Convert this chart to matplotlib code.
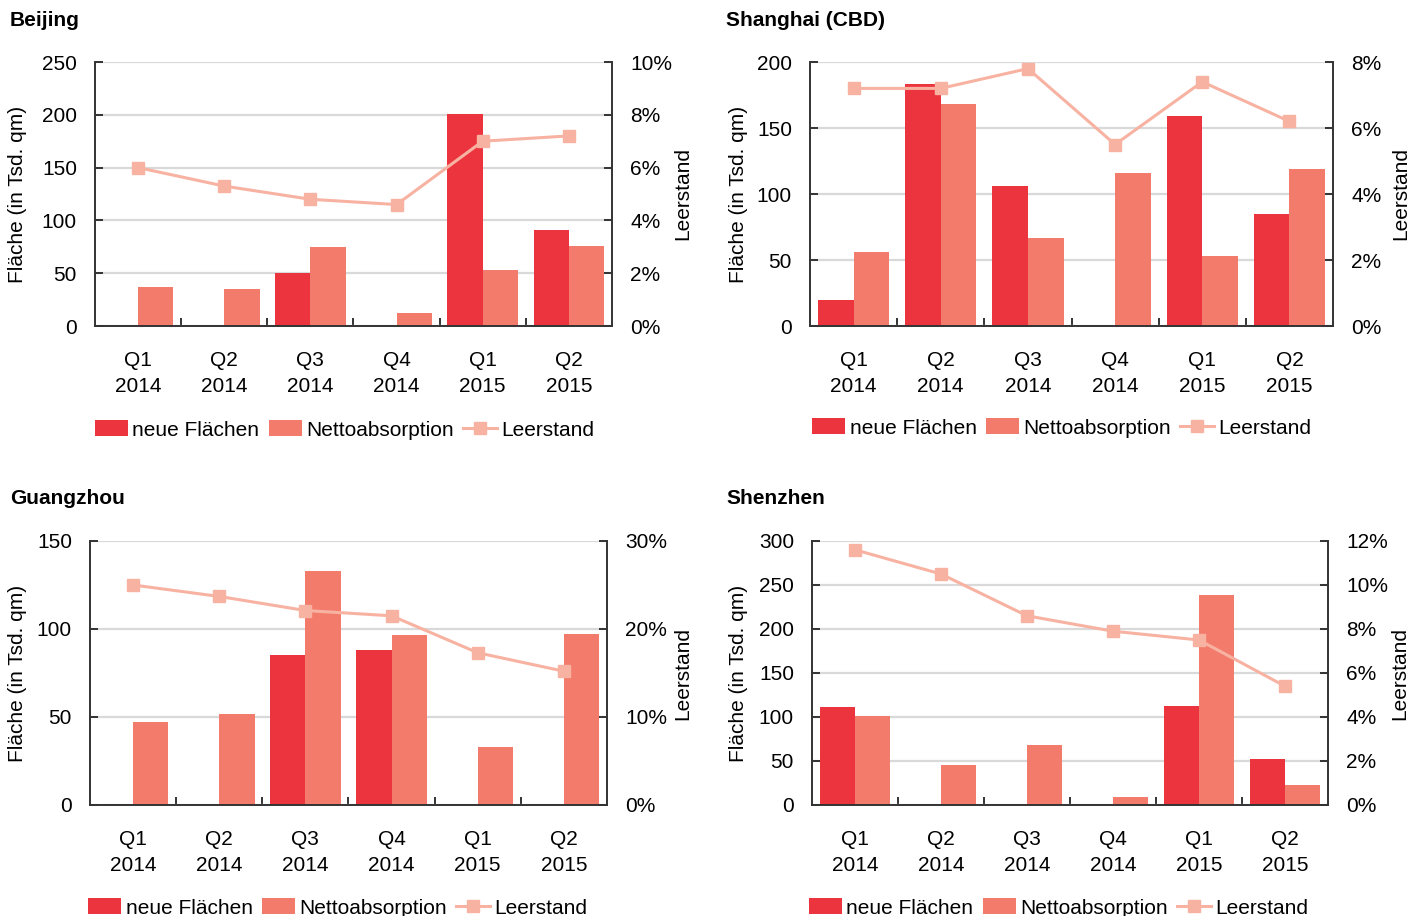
import matplotlib
matplotlib.use("Agg")
import matplotlib.pyplot as plt
from matplotlib.patches import Patch
from matplotlib.lines import Line2D
from matplotlib.ticker import FuncFormatter, MultipleLocator, FixedLocator, NullFormatter
import numpy as np

plt.rcParams['font.family'] = ['Liberation Sans', 'DejaVu Sans']
plt.rcParams['font.size'] = 15

# ---- data -------------------------------------------------------------
quarters = ["Q1\n2014", "Q2\n2014", "Q3\n2014", "Q4\n2014", "Q1\n2015", "Q2\n2015"]

beijing_neue = [0, 0, 50, 0, 201, 91]
beijing_netto = [37, 35, 75, 12, 53, 76]
beijing_leer = [6.0, 5.3, 4.8, 4.6, 7.0, 7.2]

shanghai_neue = [20, 183, 106, 0, 159, 85]
shanghai_netto = [56, 168, 67, 116, 53, 119]
shanghai_leer = [7.2, 7.2, 7.8, 5.5, 7.4, 6.2]

guangzhou_neue = [0, 0, 85, 88, 0, 0]
guangzhou_netto = [47, 51.5, 133, 96.5, 33, 97]
guangzhou_leer = [25.0, 23.7, 22.1, 21.5, 17.3, 15.2]

shenzhen_neue = [111, 0, 0, 0, 112, 52]
shenzhen_netto = [101, 45, 68, 9, 239, 23]
shenzhen_leer = [11.6, 10.5, 8.6, 7.9, 7.5, 5.4]

series_names = ["neue Flächen", "Nettoabsorption", "Leerstand"]
left_label = "Fläche (in Tsd. qm)"
right_label = "Leerstand"

# ---- styling ----------------------------------------------------------
C_NEUE = "#EC343E"
C_NETTO = "#F27B6B"
C_LEER = "#F8B2A2"
GRID = "#D9D9D9"
SPINE = "#333333"

W, H = 1426, 916
fig = plt.figure(figsize=(W / 100, H / 100), dpi=100)


def px_axes(left, right, top, bottom):
    return fig.add_axes([left / W, 1 - bottom / H, (right - left) / W, (bottom - top) / H])


def panel(box, title, title_xy, neue, netto, leer, ymax, ystep, rmax, rstep,
          llabel_x, rlabel_x, legend_xy):
    left, right, top, bottom = box
    ax = px_axes(left, right, top, bottom)
    x = np.arange(len(quarters))
    w = 0.41
    ax.bar(x - w / 2, neue, width=w, color=C_NEUE, zorder=2)
    ax.bar(x + w / 2, netto, width=w, color=C_NETTO, zorder=2)
    ax.set_xlim(-0.5, len(quarters) - 0.5)
    ax.set_ylim(0, ymax)
    ax.yaxis.set_major_locator(MultipleLocator(ystep))
    ax.grid(axis='y', color=GRID, linewidth=1.6, zorder=0)
    ax.set_axisbelow(True)

    # category boundaries carry the tick marks, centres carry the labels
    ax.xaxis.set_major_locator(FixedLocator(np.arange(0.5, len(quarters) - 0.5, 1)))
    ax.xaxis.set_major_formatter(NullFormatter())
    ax.xaxis.set_minor_locator(FixedLocator(x))
    ax.set_xticklabels(quarters, minor=True, linespacing=1.45)
    ax.tick_params(axis='x', which='major', direction='in', length=6, width=1.4, color=SPINE)
    ax.tick_params(axis='x', which='minor', length=0, pad=18, labelsize=15)
    ax.tick_params(axis='y', direction='in', length=6, width=1.4, color=SPINE,
                   pad=13, labelsize=15)

    for s in ('left', 'bottom'):
        ax.spines[s].set_color(SPINE)
        ax.spines[s].set_linewidth(1.4)
    ax.spines['top'].set_visible(False)
    ax.spines['right'].set_visible(False)

    ax2 = ax.twinx()
    ax2.plot(x, leer, color=C_LEER, linewidth=2.2, marker='s', markersize=8,
             markerfacecolor=C_LEER, markeredgecolor=C_LEER, zorder=3)
    ax2.set_ylim(0, rmax)
    ax2.yaxis.set_major_locator(MultipleLocator(rstep))
    ax2.yaxis.set_major_formatter(FuncFormatter(lambda v, p: f"{v:.0f}%"))
    ax2.tick_params(axis='y', direction='in', length=6, width=1.4, color=SPINE,
                    pad=13, labelsize=15)
    for s in ('top', 'left', 'bottom'):
        ax2.spines[s].set_visible(False)
    ax2.spines['right'].set_color(SPINE)
    ax2.spines['right'].set_linewidth(1.4)

    cy = 1 - (top + bottom) / 2 / H
    fig.text(llabel_x / W, cy, left_label, rotation=90, ha='center', va='center', fontsize=15)
    fig.text(rlabel_x / W, cy, right_label, rotation=90, ha='center', va='center', fontsize=15)
    fig.text(title_xy[0] / W, 1 - title_xy[1] / H, title, ha='left', va='top',
             fontsize=15, fontweight='bold')

    handles = [Patch(facecolor=C_NEUE), Patch(facecolor=C_NETTO),
               Line2D([], [], color=C_LEER, linewidth=2.2, marker='s', markersize=8)]
    fig.legend(handles, series_names, loc='center left', ncol=3, frameon=False,
               bbox_to_anchor=(legend_xy[0] / W, 1 - legend_xy[1] / H),
               bbox_transform=fig.transFigure, borderpad=0, borderaxespad=0,
               handlelength=1.6, handleheight=0.8, handletextpad=0.2,
               columnspacing=0.45, fontsize=15)
    return ax


panel((95, 612, 62, 326), "Beijing", (10, 11), beijing_neue, beijing_netto, beijing_leer,
      250, 50, 10, 2, 18, 683, (95, 430))
panel((810, 1333, 62, 326), "Shanghai (CBD)", (726, 11), shanghai_neue, shanghai_netto,
      shanghai_leer, 200, 50, 8, 2, 738, 1401, (812, 428))
panel((90, 607, 541, 805), "Guangzhou", (10, 489), guangzhou_neue, guangzhou_netto,
      guangzhou_leer, 150, 50, 30, 10, 18, 683, (88, 908))
panel((812, 1328, 541, 805), "Shenzhen", (726, 489), shenzhen_neue, shenzhen_netto,
      shenzhen_leer, 300, 50, 12, 2, 738, 1400, (809, 908))

fig.savefig("out.png", dpi=100)
